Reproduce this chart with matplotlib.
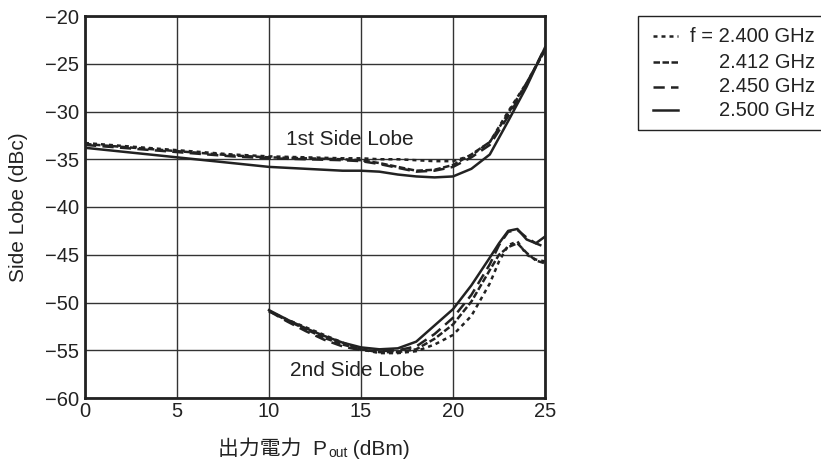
import matplotlib
matplotlib.use('Agg')
import matplotlib.pyplot as plt
from matplotlib.patches import Rectangle
from matplotlib.lines import Line2D
from matplotlib.transforms import IdentityTransform

plt.rcParams['font.family'] = ['Liberation Sans', 'Noto Sans CJK JP', 'DejaVu Sans']

# 1st side lobe
x1 = [0, 2, 4, 6, 8, 10, 12, 14, 15, 16, 17, 18, 19, 20, 21, 22, 23, 24, 25]
lobe1_2400 = [-33.3, -33.6, -33.9, -34.2, -34.5, -34.7, -34.8, -34.9, -34.9, -35.0,
              -35.0, -35.1, -35.2, -35.2, -34.6, -33.2, -30.0, -27.0, -23.5]
lobe1_2412 = [-33.4, -33.7, -34.0, -34.3, -34.6, -34.8, -34.9, -35.0, -35.1, -35.4,
              -35.8, -36.2, -36.1, -35.6, -34.5, -33.2, -30.2, -27.0, -23.6]
lobe1_2450 = [-33.5, -33.8, -34.1, -34.4, -34.7, -34.9, -35.0, -35.1, -35.2, -35.5,
              -35.9, -36.3, -36.2, -35.8, -34.8, -33.5, -30.5, -27.2, -23.3]
lobe1_2500 = [-33.8, -34.2, -34.6, -35.0, -35.4, -35.8, -36.0, -36.2, -36.2, -36.3,
              -36.6, -36.8, -36.9, -36.8, -36.0, -34.5, -31.0, -27.4, -23.3]

# 2nd side lobe
x2 = [10, 11, 12, 13, 14, 15, 16, 17, 18, 19, 20, 21, 22, 22.5, 23, 23.5, 24, 24.5, 25]
lobe2_2400 = [-50.9, -51.8, -52.6, -53.4, -54.2, -54.9, -55.3, -55.3, -55.1, -54.4,
              -53.4, -51.4, -48.0, -45.7, -44.0, -43.6, -45.0, -45.5, -45.7]
lobe2_2412 = [-50.9, -51.9, -52.8, -53.7, -54.4, -54.9, -55.2, -55.2, -54.9, -53.8,
              -52.3, -49.9, -46.6, -45.0, -44.2, -43.8, -44.8, -45.6, -45.9]
lobe2_2450 = [-50.9, -52.0, -53.0, -53.9, -54.6, -55.0, -55.1, -55.0, -54.6, -53.3,
              -51.6, -49.2, -46.0, -44.0, -42.6, -42.4, -43.2, -43.8, -44.2]
lobe2_2500 = [-50.8, -51.8, -52.7, -53.5, -54.2, -54.7, -54.9, -54.8, -54.1, -52.4,
              -50.7, -48.2, -45.3, -43.8, -42.5, -42.3, -43.4, -43.8, -43.1]

labels = ['f = 2.400 GHz', '2.412 GHz', '2.450 GHz', '2.500 GHz']
styles = [(0, (1.6, 1.6)), (0, (2.6, 1.0)), (0, (4.5, 2.5)), '-']

W, H = 821, 467
fig = plt.figure(figsize=(W / 100, H / 100), dpi=100)
ax = fig.add_axes([85 / W, (H - 398) / H, 460 / W, 382 / H])

lobe1 = [lobe1_2400, lobe1_2412, lobe1_2450, lobe1_2500]
lobe2 = [lobe2_2400, lobe2_2412, lobe2_2450, lobe2_2500]
for y1, y2, ls in zip(lobe1, lobe2, styles):
    ax.plot(x1, y1, color='#222222', lw=1.8, ls=ls)
    ax.plot(x2, y2, color='#222222', lw=1.8, ls=ls)

ax.set_xlim(0, 25)
ax.set_ylim(-60, -20)
ax.set_xticks(range(0, 26, 5))
ax.set_yticks(range(-60, -19, 5))
ax.grid(True, color='#333333', lw=1.0)
ax.tick_params(length=0, labelsize=14.5, colors='#222222')
ax.tick_params(axis='x', pad=3)
ax.tick_params(axis='y', pad=4)
for s in ax.spines.values():
    s.set_linewidth(2.0)
    s.set_color('#222222')

ax.text(14.4, -32.9, '1st Side Lobe', ha='center', va='center', fontsize=15, color='#222222')
ax.text(14.8, -57.1, '2nd Side Lobe', ha='center', va='center', fontsize=15, color='#222222')

# y label
fig.text(18 / W, (H - 207) / H, 'Side Lobe (dBc)', rotation=90, ha='center', va='center',
         fontsize=15, color='#222222')

# x label with small "out" subscript
tr = IdentityTransform()
base_y = H - 455
t1 = fig.text(218, base_y, '出力電力  P', transform=tr, fontsize=15, color='#222222',
              va='baseline')
fig.canvas.draw()
r = fig.canvas.get_renderer()
bb1 = t1.get_window_extent(r)
t2 = fig.text(bb1.x1 + 1, base_y - 2, 'out', transform=tr, fontsize=10, color='#222222',
              va='baseline')
fig.canvas.draw()
bb2 = t2.get_window_extent(r)
fig.text(bb2.x1, base_y, ' (dBm)', transform=tr, fontsize=15, color='#222222',
         va='baseline')

# legend box drawn by hand
fig.patches.append(Rectangle((638, H - 130), 200, 114, transform=tr, fill=False,
                             lw=1.0, edgecolor='#222222'))
leg_y = [36, 62, 87, 110]
for lab, ls, yy in zip(labels, styles, leg_y):
    fig.lines.append(Line2D([653, 678], [H - yy, H - yy], transform=tr, color='#222222',
                            lw=1.8, ls=ls))
    fig.text(815, H - yy, lab, transform=tr, ha='right', va='center', fontsize=14.5,
             color='#222222')

fig.savefig('out.png', dpi=100)
